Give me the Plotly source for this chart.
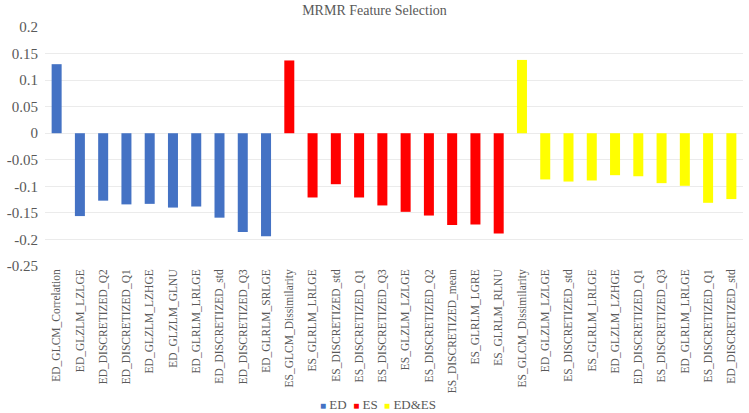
import plotly.graph_objects as go

ed_features = ["ED_GLCM_Correlation", "ED_GLZLM_LZLGE", "ED_DISCRETIZED_Q2", "ED_DISCRETIZED_Q1",
               "ED_GLZLM_LZHGE", "ED_GLZLM_GLNU", "ED_GLRLM_LRLGE", "ED_DISCRETIZED_std",
               "ED_DISCRETIZED_Q3", "ED_GLRLM_SRLGE"]
ed_values = [0.130, -0.156, -0.127, -0.134, -0.133, -0.140, -0.138, -0.159, -0.186, -0.194]

es_features = ["ES_GLCM_Dissimilarity", "ES_GLRLM_LRLGE", "ES_DISCRETIZED_std", "ES_DISCRETIZED_Q1",
               "ES_DISCRETIZED_Q3", "ES_GLZLM_LZLGE", "ES_DISCRETIZED_Q2", "ES_DISCRETIZED_mean",
               "ES_GLRLM_LGRE", "ES_GLRLM_RLNU"]
es_values = [0.137, -0.121, -0.096, -0.121, -0.136, -0.148, -0.155, -0.173, -0.172, -0.189]

both_features = ["ES_GLCM_Dissimilarity", "ED_GLZLM_LZLGE", "ES_DISCRETIZED_std", "ES_GLRLM_LRLGE",
                 "ED_GLZLM_LZHGE", "ED_DISCRETIZED_Q1", "ES_DISCRETIZED_Q3", "ED_GLRLM_LRLGE",
                 "ES_DISCRETIZED_Q1", "ED_DISCRETIZED_std"]
both_values = [0.138, -0.087, -0.091, -0.089, -0.079, -0.081, -0.094, -0.099, -0.131, -0.124]

y_ticks = [0.2, 0.15, 0.1, 0.05, 0, -0.05, -0.1, -0.15, -0.2, -0.25]
y_tick_labels = ["0.2", "0.15", "0.1", "0.05", "0", "-0.05", "-0.1", "-0.15", "-0.2", "-0.25"]

groups = [("ED", ed_features, ed_values, "#4472C4"),
          ("ES", es_features, es_values, "#FF0000"),
          ("ED&ES", both_features, both_values, "#FFFF00")]

fig = go.Figure()
all_labels = []
legend_parts = []
for name, feats, vals, col in groups:
    start = len(all_labels)
    xs = list(range(start, start + len(feats)))
    all_labels += feats
    fig.add_trace(go.Bar(x=xs, y=vals, name=name, marker_color=col,
                         marker_line_width=0, width=0.43, showlegend=False))
    legend_parts.append(f"<span style='color:{col};font-size:10px'>■</span> {name.replace('&', '&amp;')}")

grey = "#595959"
serif = "Liberation Serif"

# compact legend like the Excel one, drawn as text under the axis labels
fig.add_annotation(text="&nbsp;&nbsp;".join(legend_parts), xref="paper", yref="paper",
                   x=0.477, y=-0.58, xanchor="center", yanchor="middle", showarrow=False,
                   font=dict(family=serif, size=13, color=grey))

fig.update_layout(
    width=749, height=413,
    margin=dict(l=45, r=6, t=27, b=147, autoexpand=False),
    plot_bgcolor="white", paper_bgcolor="white",
    font=dict(family=serif, color=grey, size=12),
    title=dict(text="MRMR Feature Selection", x=0.5, xanchor="center", y=0.975, yanchor="middle",
               font=dict(family=serif, size=14, color=grey)),
    barmode="overlay",
    showlegend=False,
)
fig.update_xaxes(tickmode="array", tickvals=list(range(len(all_labels))), ticktext=all_labels,
                 tickangle=-90, range=[-0.5, len(all_labels) - 0.5], showgrid=False, automargin=False,
                 tickfont=dict(family=serif, size=11.5, color=grey), ticks="", showline=False)
fig.update_yaxes(range=[-0.25, 0.2], tickmode="array", tickvals=y_ticks, ticktext=y_tick_labels,
                 showgrid=True, gridcolor="#EBEBEB", gridwidth=1, zeroline=True, automargin=False,
                 zerolinecolor="#EBEBEB", zerolinewidth=1, ticklabelstandoff=6,
                 tickfont=dict(family=serif, size=15, color=grey))

fig.write_html("out.html", config={"displayModeBar": False},
               post_script="document.body.style.margin='0';")
